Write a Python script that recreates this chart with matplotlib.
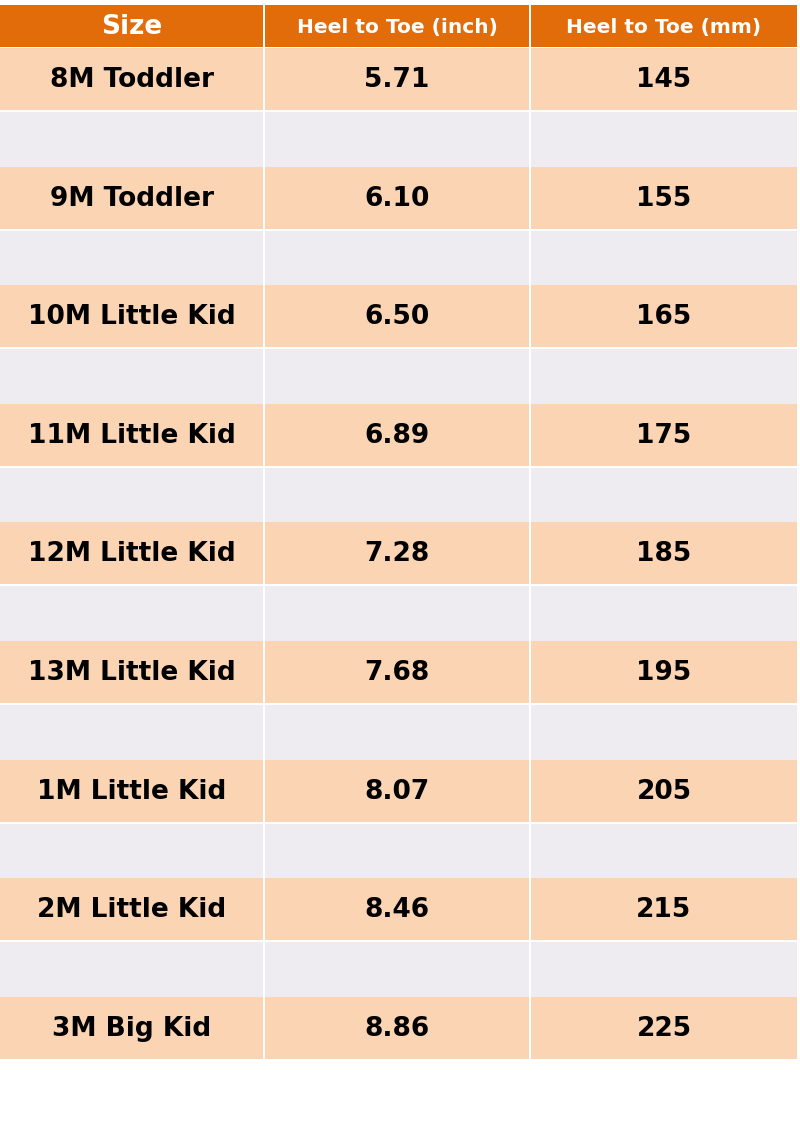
import matplotlib
matplotlib.use("Agg")
import matplotlib.pyplot as plt
from matplotlib.patches import Rectangle

headers = ["Size", "Heel to Toe (inch)", "Heel to Toe (mm)"]
sizes = ["8M Toddler", "9M Toddler", "10M Little Kid", "11M Little Kid", "12M Little Kid",
         "13M Little Kid", "1M Little Kid", "2M Little Kid", "3M Big Kid"]
inches = ["5.71", "6.10", "6.50", "6.89", "7.28", "7.68", "8.07", "8.46", "8.86"]
mm = ["145", "155", "165", "175", "185", "195", "205", "215", "225"]

fig = plt.figure(figsize=(8, 11.31), dpi=100)
ax = fig.add_axes([0, 0, 1, 1])
ax.set_xlim(0, 800); ax.set_ylim(1131, 0); ax.axis("off")

cols = [(0, 263), (265, 529), (531, 797)]
orange = "#E36C0A"; peach = "#FBD4B4"; grey = "#EEECF1"
for i, (x0, x1) in enumerate(cols):
    ax.add_patch(Rectangle((x0, 5), x1 - x0, 42, color=orange, lw=0))
    ax.text((x0 + x1) / 2, 27, headers[i], color="white", fontweight="bold",
            fontsize=19 if i == 0 else 14.5, ha="center", va="center")

period = 118.6
for r in range(len(sizes)):
    y0 = 48 + r * period
    for j, (x0, x1) in enumerate(cols):
        ax.add_patch(Rectangle((x0, y0), x1 - x0, 62, color=peach, lw=0))
        if r < len(sizes) - 1:
            ax.add_patch(Rectangle((x0, y0 + 64), x1 - x0, 54.5, color=grey, lw=0))
        txt = [sizes[r], inches[r], mm[r]][j]
        ax.text((x0 + x1) / 2, y0 + 32, txt, color="black", fontweight="bold",
                fontsize=19, ha="center", va="center")

fig.savefig("out.png", dpi=100)
